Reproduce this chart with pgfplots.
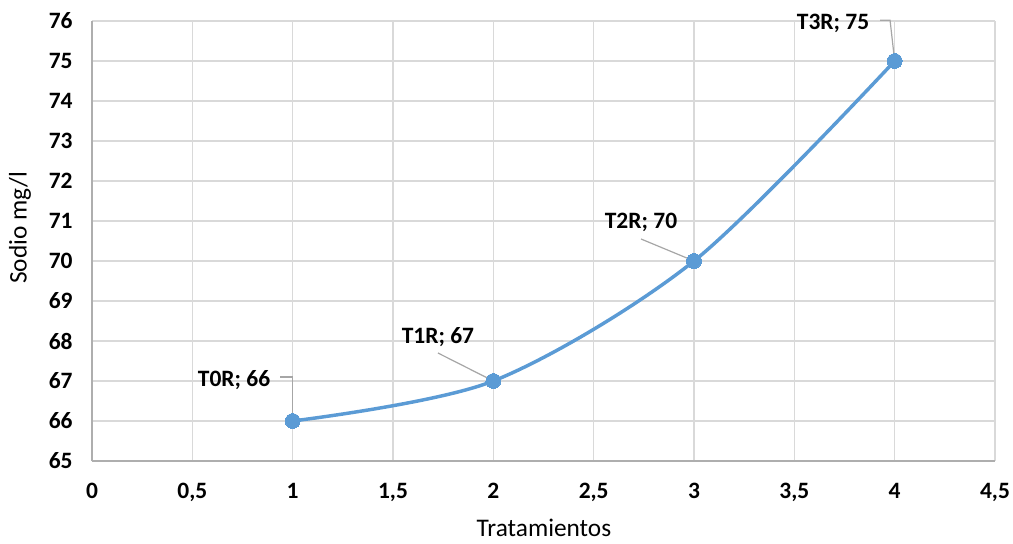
\documentclass[border=0pt]{standalone}
\usepackage{pgfplots}
\pgfplotsset{compat=1.18}
\usepackage{fontspec}
\setmainfont{Carlito}
\definecolor{serie}{HTML}{5B9BD5}
\definecolor{rejilla}{HTML}{D9D9D9}
\definecolor{guia}{HTML}{A6A6A6}
\begin{document}
\begin{tikzpicture}[x=1pt,y=1pt]
\useasboundingbox (0,0) rectangle (759.75,407.25);
\begin{axis}[
  at={(69pt,61.5pt)}, anchor=south west,
  scale only axis, width=677.25pt, height=330pt,
  xmin=0, xmax=4.5, ymin=65, ymax=76,
  xtick={0,0.5,...,4.5}, ytick={65,66,...,76},
  grid=major, major grid style={rejilla, line width=1pt},
  axis line style={rejilla!80!black, line width=1pt},
  axis x line*=bottom, axis y line*=left,
  tick style={draw=none},
  /pgf/number format/assume math mode=true,
  /pgf/number format/use comma,
  ticklabel style={font=\fontsize{17.6}{20}\selectfont\bfseries},
  xticklabel style={yshift=-13pt},
  yticklabel style={xshift=-11pt},
  label style={font=\fontsize{19}{22}\selectfont},
  xlabel={Tratamientos},
  ylabel={Sodio mg/l},
  xlabel style={at={(axis description cs:0.5005,-0.152)}, anchor=center},
  ylabel style={at={(axis description cs:-0.0797,0.53)}, anchor=center, rotate=0},
  clip=false,
]
\addplot[serie, line width=2.6pt, smooth, tension=0.5,
  mark=*, mark size=5.6pt, mark options={fill=serie, draw=serie, line width=0pt}]
  coordinates {(1,66) (2,67) (3,70) (4,75)};
% leader lines and data labels
\draw[guia, line width=0.9pt] (axis cs:0.937,67.1) -- (axis cs:1,67.1) -- (axis cs:1,66);
\draw[guia, line width=0.9pt] (axis cs:1.724,67.7) -- (axis cs:2,67);
\draw[guia, line width=0.9pt] (axis cs:2.736,70.55) -- (axis cs:3,70);
\draw[guia, line width=0.9pt] (axis cs:3.927,76.02) -- (axis cs:3.977,76.02) -- (axis cs:4,75);
\begin{scope}[every node/.style={font=\fontsize{17.6}{20}\selectfont\bfseries, inner sep=0pt}]
\node at (axis cs:0.708,67.03) {T0R; 66};
\node at (axis cs:1.724,68.1) {T1R; 67};
\node at (axis cs:2.736,70.975) {T2R; 70};
\node at (axis cs:3.693,75.95) {T3R; 75};
\end{scope}
\end{axis}
\end{tikzpicture}
\end{document}
